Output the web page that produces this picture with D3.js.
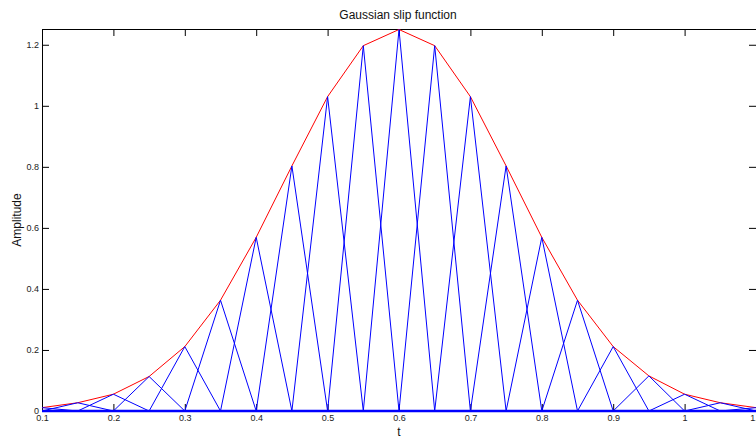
<!DOCTYPE html>
<html>
<head>
<meta charset="utf-8">
<script src="https://cdn.jsdelivr.net/npm/d3@7"></script>
<style>
  body { margin: 0; background: #fff; }
  svg { display: block; font-family: "Liberation Sans", Arial, sans-serif; }
  .tick text { fill: #222; font-size: 9px; }
  .domain { stroke: #000; }
</style>
</head>
<body>
<svg width="756" height="439"></svg>
<script>
// sample times and gaussian amplitudes
const tVals = [0.1, 0.15, 0.2, 0.25, 0.3, 0.35, 0.4, 0.45, 0.5, 0.55, 0.6,
  0.65, 0.7, 0.75, 0.8, 0.85, 0.9, 0.95, 1.0, 1.05, 1.1];
const amp = [0.011, 0.027, 0.055, 0.113, 0.211, 0.363, 0.569, 0.803, 1.030, 1.197, 1.25,
  1.197, 1.030, 0.803, 0.569, 0.363, 0.211, 0.115, 0.055, 0.027, 0.011];
const xTicks = [0.1, 0.2, 0.3, 0.4, 0.5, 0.6, 0.7, 0.8, 0.9, 1, 1.1];
const yTicks = [0, 0.2, 0.4, 0.6, 0.8, 1, 1.2];

const svg = d3.select("svg");
const margin = {top: 29, left: 42};
const w = 714, h = 382;

const x = d3.scaleLinear().domain([0.1, 1.1]).range([0, w]);
const y = d3.scaleLinear().domain([0, 1.25]).range([h, 0.5]);

const g = svg.append("g").attr("transform", `translate(${margin.left},${margin.top})`);

const fmt = d => String(d);

// box axes, ticks pointing inward
g.append("g").attr("transform", `translate(0,${h})`)
  .call(d3.axisBottom(x).tickValues(xTicks).tickFormat(fmt).tickSizeInner(-7).tickSizeOuter(0).tickPadding(4));
g.append("g")
  .call(d3.axisTop(x).tickValues(xTicks).tickFormat("").tickSizeInner(-7).tickSizeOuter(0));
g.append("g")
  .call(d3.axisLeft(y).tickValues(yTicks).tickFormat(fmt).tickSizeInner(-7).tickSizeOuter(0).tickPadding(3));
g.append("g").attr("transform", `translate(${w},0)`)
  .call(d3.axisRight(y).tickValues(yTicks).tickFormat("").tickSizeInner(-7).tickSizeOuter(0));
g.selectAll(".tick line").attr("stroke", "#000");

const line = d3.line().x(d => x(d[0])).y(d => y(d[1]));

// red envelope
g.append("path")
  .datum(tVals.map((t, i) => [t, amp[i]]))
  .attr("d", line)
  .attr("fill", "none")
  .attr("stroke", "#ff0000")
  .attr("stroke-width", 1);

// one hat function per sample, zero at all other samples
tVals.forEach((tc, k) => {
  g.append("path")
    .datum(tVals.map((t, i) => [t, i === k ? amp[k] : 0]))
    .attr("d", line)
    .attr("fill", "none")
    .attr("stroke", "#0000ff")
    .attr("stroke-width", 1);
});

// thick blue baseline from the overlapping zero segments
g.append("path")
  .datum([[0.1, 0], [1.1, 0]])
  .attr("d", line)
  .attr("stroke", "#0000ff")
  .attr("stroke-width", 2.5);

svg.append("text")
  .attr("x", margin.left + w / 2 - 1).attr("y", 19)
  .attr("text-anchor", "middle").attr("font-size", 12).attr("fill", "#111")
  .text("Gaussian slip function");

svg.append("text")
  .attr("x", margin.left + w / 2).attr("y", 436)
  .attr("text-anchor", "middle").attr("font-size", 12).attr("fill", "#111")
  .text("t");

svg.append("text")
  .attr("transform", `translate(21,${margin.top + h / 2}) rotate(-90)`)
  .attr("text-anchor", "middle").attr("font-size", 12).attr("fill", "#111")
  .text("Amplitude");
</script>
</body>
</html>
